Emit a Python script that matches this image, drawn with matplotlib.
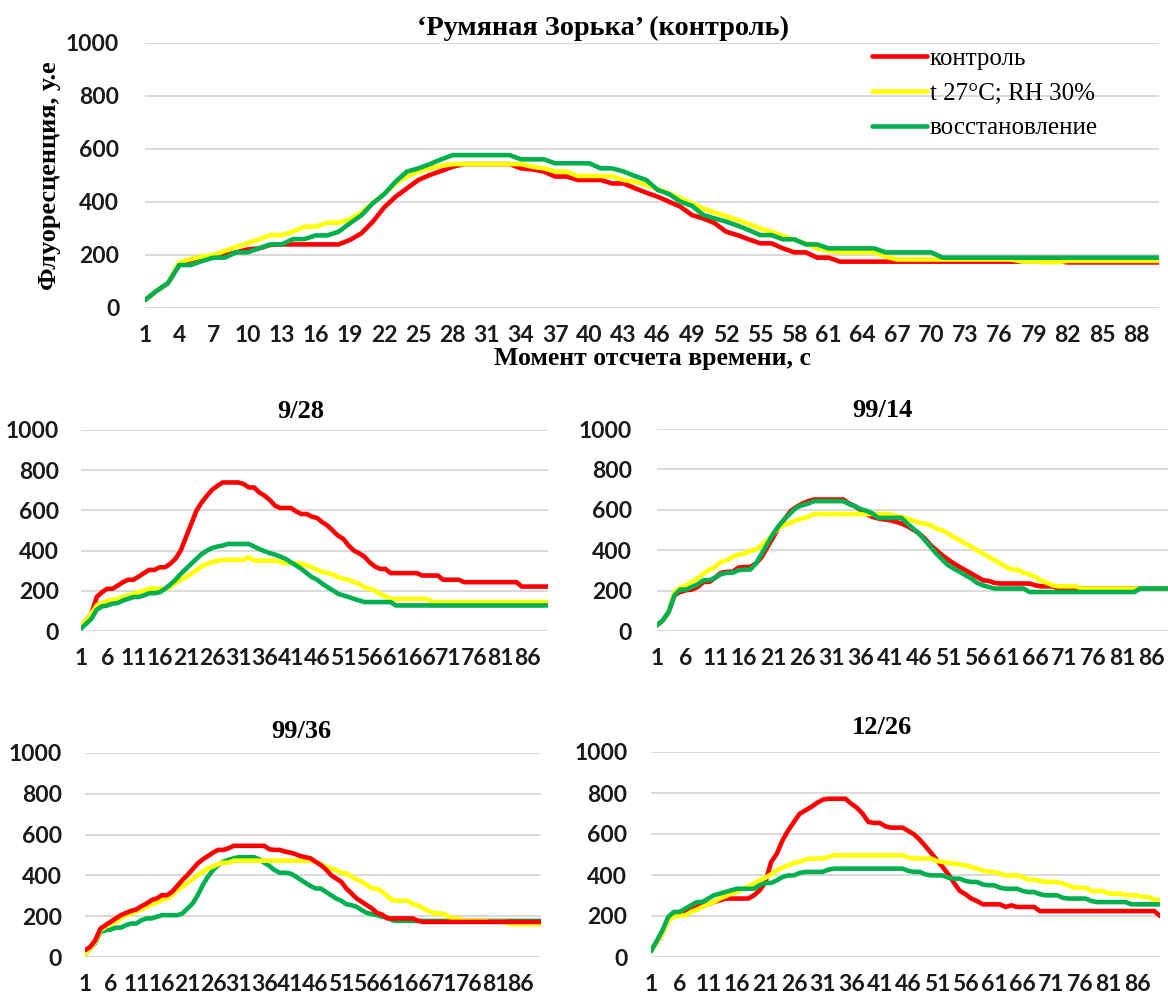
import numpy as np
import matplotlib.pyplot as plt

W, H = 1168, 999

RED = '#FF0000'
YEL = '#FFFF00'
GRN = '#00B050'

series_names = ['контроль', 't 27°C; RH 30%', 'восстановление']

# 'Румяная Зорька' (контроль)
top_red = [30, 64, 93, 162, 181, 190, 190, 200, 210, 221,
           225, 238, 240, 240, 240, 240, 240, 240, 257, 282,
           326, 380, 420, 452, 483, 502, 517, 533, 543, 543,
           543, 543, 543, 527, 523, 515, 496, 496, 483, 483,
           483, 470, 470, 452, 435, 420, 401, 382, 351, 338,
           320, 288, 275, 259, 244, 244, 225, 210, 210, 190,
           190, 175, 175, 175, 175, 175, 175, 175, 175, 175,
           175, 175, 175, 175, 175, 175, 175, 175, 175, 178,
           178, 172, 172, 172, 172, 172, 172, 172, 172, 172]
top_yel = [30, 64, 93, 172, 185, 194, 200, 215, 231, 244,
           259, 275, 275, 288, 307, 307, 322, 322, 336, 361,
           397, 430, 470, 496, 515, 527, 536, 543, 543, 543,
           543, 543, 543, 543, 533, 527, 515, 515, 498, 498,
           498, 498, 483, 477, 464, 449, 433, 414, 395, 376,
           360, 347, 332, 317, 300, 288, 272, 257, 244, 225,
           216, 210, 210, 210, 210, 194, 183, 183, 183, 183,
           183, 183, 183, 183, 183, 183, 183, 175, 175, 173,
           173, 178, 178, 178, 178, 178, 178, 178, 178, 178]
top_grn = [30, 64, 93, 162, 162, 177, 190, 190, 210, 210,
           225, 240, 240, 260, 260, 274, 274, 288, 320, 350,
           395, 430, 477, 515, 527, 543, 561, 577, 577, 577,
           577, 577, 577, 561, 561, 561, 546, 546, 546, 546,
           527, 527, 515, 498, 483, 445, 430, 401, 386, 351,
           338, 326, 311, 294, 275, 275, 259, 259, 240, 240,
           225, 225, 225, 225, 225, 210, 210, 210, 210, 210,
           190, 190, 190, 190, 190, 190, 190, 190, 190, 190,
           190, 190, 190, 190, 190, 190, 190, 190, 190, 190]

# 9/28
s928_red = [28, 53, 86, 169, 193, 210, 210, 226, 243, 255,
            255, 271, 288, 304, 304, 317, 317, 334, 359, 400,
            466, 532, 598, 640, 673, 703, 722, 739, 739, 739,
            739, 731, 714, 714, 689, 673, 651, 623, 612, 612,
            612, 595, 582, 582, 569, 562, 541, 524, 499, 474,
            458, 425, 400, 387, 370, 342, 321, 309, 309, 288,
            288, 288, 288, 288, 288, 276, 276, 276, 276, 255,
            255, 255, 255, 243, 243, 243, 243, 243, 243, 243,
            243, 243, 243, 243, 221, 221, 221, 221, 221, 221]
s928_yel = [28, 53, 86, 127, 139, 149, 155, 160, 169, 177,
            185, 193, 202, 210, 210, 210, 210, 218, 238, 255,
            268, 284, 304, 321, 334, 342, 350, 354, 354, 354,
            354, 354, 367, 350, 350, 350, 350, 350, 342, 337,
            337, 337, 334, 326, 317, 304, 293, 288, 281, 268,
            260, 255, 243, 235, 218, 210, 202, 185, 172, 160,
            160, 160, 160, 160, 160, 160, 160, 144, 144, 144,
            144, 144, 144, 144, 144, 144, 144, 144, 144, 144,
            144, 144, 144, 144, 144, 144, 144, 144, 144, 144]
s928_grn = [12, 36, 61, 106, 122, 127, 136, 139, 152, 160,
            169, 169, 177, 188, 188, 193, 210, 231, 255, 284,
            309, 334, 359, 383, 400, 413, 420, 425, 433, 433,
            433, 433, 433, 420, 408, 397, 387, 380, 370, 359,
            342, 326, 309, 288, 268, 255, 235, 218, 202, 185,
            177, 169, 160, 152, 144, 144, 144, 144, 144, 144,
            127, 127, 127, 127, 127, 127, 127, 127, 127, 127,
            127, 127, 127, 127, 127, 127, 127, 127, 127, 127,
            127, 127, 127, 127, 127, 127, 127, 127, 127, 127]

# 99/14
s9914_red = [28, 53, 94, 177, 193, 202, 205, 218, 243, 243,
             264, 288, 293, 293, 314, 317, 317, 334, 367, 417,
             466, 516, 557, 595, 615, 631, 643, 651, 651, 651,
             651, 651, 651, 631, 618, 598, 579, 565, 557, 552,
             549, 541, 532, 519, 502, 483, 458, 425, 400, 375,
             354, 334, 317, 301, 284, 268, 251, 248, 238, 235,
             235, 235, 235, 235, 235, 226, 221, 221, 221, 210,
             210, 210, 210, 210, 210, 210, 210, 210, 210, 210,
             210, 210, 210, 210, 210, 210, 210, 210, 210, 210]
s9914_yel = [28, 53, 94, 193, 215, 226, 243, 260, 284, 304,
             317, 342, 350, 367, 379, 383, 397, 403, 425, 450,
             483, 512, 527, 536, 549, 557, 565, 579, 579, 579,
             579, 579, 579, 579, 579, 579, 579, 579, 579, 579,
             579, 569, 565, 557, 546, 536, 532, 524, 507, 499,
             483, 466, 450, 433, 417, 400, 383, 367, 350, 334,
             317, 304, 304, 288, 281, 268, 248, 238, 226, 221,
             221, 221, 221, 210, 210, 210, 210, 210, 210, 210,
             210, 210, 210, 210, 210, 210, 210, 210, 210, 210]
s9914_grn = [28, 53, 94, 177, 205, 205, 218, 231, 251, 251,
             264, 281, 288, 288, 301, 304, 304, 334, 383, 433,
             483, 524, 557, 585, 612, 623, 631, 643, 643, 643,
             643, 643, 643, 628, 618, 603, 595, 582, 560, 560,
             560, 560, 560, 532, 507, 483, 450, 417, 383, 354,
             326, 309, 293, 276, 260, 238, 226, 218, 210, 210,
             210, 210, 210, 210, 193, 193, 193, 193, 193, 193,
             193, 193, 193, 193, 193, 193, 193, 193, 193, 193,
             193, 193, 193, 210, 210, 210, 210, 210, 210, 210]

# 99/36
s9936_red = [33, 49, 82, 139, 156, 172, 189, 205, 216, 226,
             233, 249, 262, 279, 287, 303, 303, 320, 348, 377,
             402, 430, 459, 479, 495, 512, 525, 525, 533, 545,
             545, 545, 545, 545, 545, 545, 528, 525, 525, 517,
             512, 505, 495, 489, 484, 467, 451, 430, 402, 385,
             369, 336, 312, 287, 271, 254, 238, 216, 208, 189,
             189, 189, 189, 189, 189, 177, 172, 172, 172, 172,
             172, 172, 172, 172, 172, 172, 172, 172, 172, 172,
             172, 172, 172, 172, 172, 172, 172, 172, 172, 172]
s9936_yel = [13, 41, 74, 131, 148, 161, 172, 189, 205, 213,
             221, 233, 246, 259, 266, 279, 287, 303, 328, 344,
             364, 380, 402, 418, 435, 443, 456, 462, 462, 472,
             472, 472, 472, 472, 472, 472, 472, 472, 472, 472,
             472, 472, 472, 472, 472, 467, 456, 443, 435, 426,
             413, 410, 394, 380, 369, 353, 336, 336, 320, 298,
             279, 276, 276, 276, 259, 254, 238, 226, 216, 213,
             213, 197, 189, 189, 177, 177, 177, 177, 177, 172,
             172, 172, 172, 161, 161, 161, 161, 161, 161, 161]
s9936_grn = [13, 41, 69, 123, 131, 134, 144, 144, 156, 164,
             164, 180, 189, 189, 197, 205, 205, 205, 205, 213,
             238, 262, 303, 353, 394, 426, 451, 467, 476, 484,
             489, 489, 489, 489, 479, 462, 446, 426, 413, 413,
             410, 397, 380, 364, 348, 336, 336, 320, 303, 287,
             276, 259, 254, 246, 230, 216, 210, 205, 197, 194,
             180, 177, 177, 177, 177, 177, 177, 177, 177, 177,
             177, 177, 177, 177, 177, 177, 177, 177, 177, 177,
             177, 177, 177, 177, 177, 177, 177, 177, 177, 177]

# 12/26
s1226_red = [29, 73, 114, 187, 203, 211, 220, 231, 244, 257,
             257, 268, 276, 285, 285, 285, 285, 285, 301, 325,
             366, 463, 504, 569, 618, 659, 699, 715, 732, 751,
             767, 772, 772, 772, 772, 748, 728, 699, 659, 654,
             654, 637, 631, 631, 631, 615, 598, 572, 540, 507,
             472, 439, 403, 361, 322, 306, 285, 273, 257, 257,
             257, 257, 244, 252, 244, 244, 244, 244, 224, 224,
             224, 224, 224, 224, 224, 224, 224, 224, 224, 224,
             224, 224, 224, 224, 224, 224, 224, 224, 224, 200]
s1226_yel = [29, 73, 114, 179, 195, 203, 203, 220, 231, 244,
             257, 268, 285, 296, 309, 317, 333, 345, 358, 374,
             387, 403, 423, 436, 447, 459, 464, 475, 480, 480,
             480, 488, 496, 496, 496, 496, 496, 496, 496, 496,
             496, 496, 496, 496, 496, 485, 480, 480, 480, 480,
             468, 464, 459, 455, 452, 447, 439, 431, 423, 415,
             415, 407, 398, 398, 398, 390, 377, 377, 371, 366,
             366, 366, 358, 350, 338, 338, 338, 322, 322, 322,
             309, 309, 309, 301, 301, 301, 293, 293, 280, 280]
s1226_grn = [29, 78, 130, 195, 220, 220, 236, 252, 268, 268,
             285, 301, 309, 317, 325, 333, 333, 333, 333, 350,
             361, 361, 374, 390, 398, 398, 410, 415, 415, 415,
             415, 426, 431, 431, 431, 431, 431, 431, 431, 431,
             431, 431, 431, 431, 431, 420, 415, 415, 403, 398,
             398, 398, 387, 382, 382, 371, 366, 366, 354, 350,
             350, 338, 333, 333, 333, 322, 317, 317, 306, 301,
             301, 301, 289, 285, 285, 285, 285, 273, 268, 268,
             268, 268, 268, 268, 257, 257, 257, 257, 257, 257]

x = np.arange(1, 91)
yticks = [0, 200, 400, 600, 800, 1000]

TICKFONT = dict(family='Lato', weight='bold', size=16.5)
SERIF = 'Liberation Serif'


def box(x0, y0, x1, y1):
    # pixel box -> [left, bottom, width, height] in figure fractions
    return [x0 / W, 1 - y1 / H, (x1 - x0) / W, (y1 - y0) / H]


def fxy(px, py):
    return px / W, 1 - py / H


def panel(ax, red, yel, grn, step, ypad, order=(0, 1, 2)):
    data = [(red, RED), (yel, YEL), (grn, GRN)]
    for z, k in enumerate(order):
        vals, col = data[k]
        ax.plot(x, vals, color=col, lw=3.3, zorder=3 + z,
                solid_joinstyle='round', solid_capstyle='round',
                label=series_names[k])
    ax.set_xlim(1, 90)
    ax.set_ylim(0, 1000)
    ax.set_yticks(yticks)
    ax.set_xticks(np.arange(1, 91, step))
    ax.set_xticklabels([str(v) for v in range(1, 91, step)], fontdict=TICKFONT)
    ax.set_yticklabels([str(v) for v in yticks], fontdict=TICKFONT)
    ax.tick_params(axis='x', length=0, pad=12, colors='#1a1a1a')
    ax.tick_params(axis='y', length=0, pad=ypad, colors='#1a1a1a')
    ax.grid(axis='y', color='#d9d9d9', lw=1.4, zorder=0)
    for s in ax.spines.values():
        s.set_visible(False)


fig = plt.figure(figsize=(W / 100, H / 100), dpi=100)
fig.patch.set_facecolor('white')

ax0 = fig.add_axes(box(145, 43, 1159, 308))
panel(ax0, top_red, top_yel, top_grn, 3, 18.5)

ax1 = fig.add_axes(box(81, 430, 548, 631))
panel(ax1, s928_red, s928_yel, s928_grn, 5, 16)

ax2 = fig.add_axes(box(657, 429, 1175, 631))
panel(ax2, s9914_red, s9914_yel, s9914_grn, 5, 18)

ax3 = fig.add_axes(box(85, 753, 541, 957))
panel(ax3, s9936_red, s9936_yel, s9936_grn, 5, 16.5, order=(2, 1, 0))

ax4 = fig.add_axes(box(651, 752, 1160, 957))
panel(ax4, s1226_red, s1226_yel, s1226_grn, 5, 17)

# titles
fig.text(*fxy(603, 28), '‘Румяная Зорька’ (контроль)', family=SERIF,
         weight='bold', size=20.3, ha='center', va='center')
for (px, py), t in zip([(301, 412), (882, 411), (301, 732), (882, 727)],
                       ['9/28', '99/14', '99/36', '12/26']):
    fig.text(*fxy(px, py), t, family=SERIF, weight='bold', size=19,
             ha='center', va='center')

fig.text(*fxy(653, 359), 'Момент отсчета времени, с', family=SERIF,
         weight='bold', size=18.5, ha='center', va='center')
fig.text(*fxy(50, 176), 'Флуоресценция, у.е', family=SERIF,
         weight='bold', size=19, ha='center', va='center', rotation=90)

ax0.legend(loc='upper left', bbox_to_anchor=fxy(872, 47),
           bbox_transform=fig.transFigure, frameon=False,
           borderpad=0, borderaxespad=0, handlelength=2.2,
           handletextpad=0.1, labelspacing=0.5,
           prop=dict(family=SERIF, size=18))

fig.savefig('out.png', dpi=100, facecolor='white')
